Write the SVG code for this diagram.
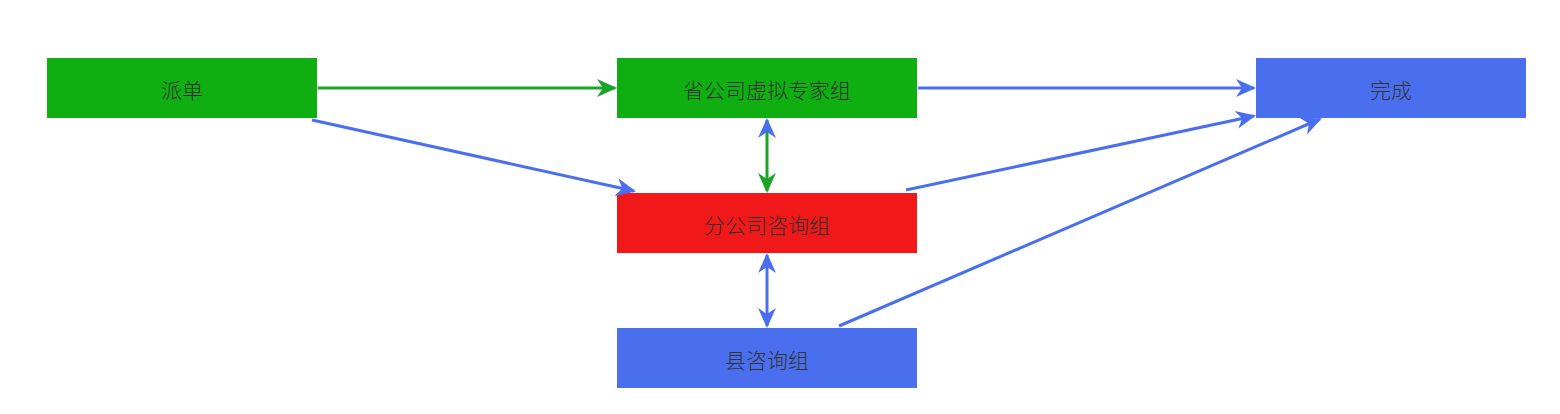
<svg xmlns="http://www.w3.org/2000/svg" width="1560" height="414" viewBox="0 0 1560 414">
<style>
.t{font-family:"Noto Sans CJK SC","Liberation Sans",sans-serif;font-size:21px;font-weight:300;fill:#333;text-anchor:middle;dominant-baseline:central}
.g{fill:#0faf12}.r{fill:#f01818}.b{fill:#4a6fee}
.lg{stroke:#1aa528;stroke-width:3;fill:none}
.lb{stroke:#4a6fee;stroke-width:3;fill:none}
</style>
<defs>
<marker id="ag" viewBox="0 0 20 20" refX="18" refY="10" markerWidth="20" markerHeight="20" markerUnits="userSpaceOnUse" orient="auto-start-reverse"><path d="M0,1 L20,10 L0,19 L6,10 z" fill="#1aa528"/></marker>
<marker id="ab" viewBox="0 0 20 20" refX="18" refY="10" markerWidth="20" markerHeight="20" markerUnits="userSpaceOnUse" orient="auto-start-reverse"><path d="M0,1 L20,10 L0,19 L6,10 z" fill="#4a6fee"/></marker>
</defs>
<rect width="1560" height="414" fill="#fff"/>
<g id="n1"><rect class="g" x="47" y="58" width="270" height="60"/><text class="t" x="182" y="89">派单</text></g>
<g id="n2"><rect class="g" x="617" y="58" width="300" height="60"/><text class="t" x="767" y="89">省公司虚拟专家组</text></g>
<g id="n3"><rect class="b" x="1256" y="58" width="270" height="60"/><text class="t" x="1391" y="89">完成</text></g>
<g id="n4"><rect class="r" x="617" y="193" width="300" height="60"/><text class="t" x="767" y="224">分公司咨询组</text></g>
<g id="n5"><rect class="b" x="617" y="328" width="300" height="60"/><text class="t" x="767" y="359">县咨询组</text></g>
<g id="edges">
<line class="lg" x1="318" y1="88" x2="615" y2="88" marker-end="url(#ag)"/>
<line class="lb" x1="312" y1="120" x2="634" y2="191" marker-end="url(#ab)"/>
<line class="lb" x1="918" y1="88" x2="1254" y2="88" marker-end="url(#ab)"/>
<line class="lb" x1="906" y1="190" x2="1254" y2="116" marker-end="url(#ab)"/>
<line class="lb" x1="839" y1="326" x2="1320" y2="119" marker-end="url(#ab)"/>
<line class="lg" x1="767" y1="120" x2="767" y2="191" marker-start="url(#ab)" marker-end="url(#ag)"/>
<line class="lb" x1="767" y1="255" x2="767" y2="326" marker-start="url(#ab)" marker-end="url(#ab)"/>
</g>
</svg>
